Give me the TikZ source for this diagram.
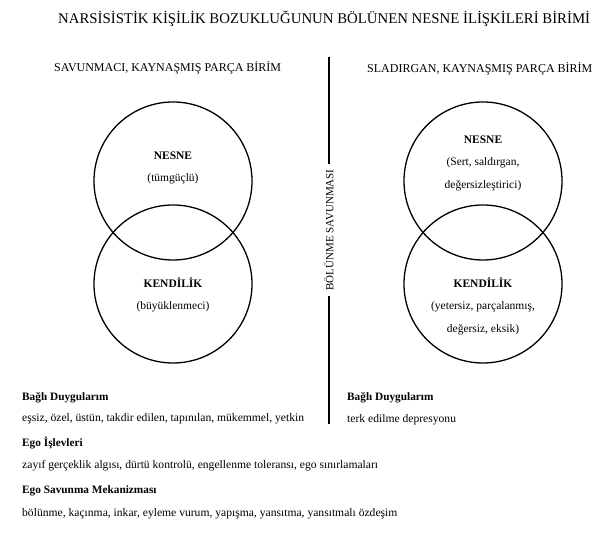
\documentclass[tikz,border=0pt]{standalone}
\usepackage{fontspec}
\setmainfont{Liberation Serif}
\usetikzlibrary{positioning}

\tikzset{
  daire/.style={draw,circle,line width=1.3pt,minimum size=158pt,inner sep=0pt},
  baslik/.style={font=\fontsize{14.8}{18}\selectfont,anchor=west,inner sep=0pt},
  altbaslik/.style={font=\fontsize{12}{14}\selectfont,anchor=west,inner sep=0pt},
  adlar/.style={font=\bfseries\fontsize{11.5}{13}\selectfont,inner sep=0pt},
  aciklama/.style={font=\fontsize{11.5}{13}\selectfont,inner sep=0pt},
  metin/.style={font=\fontsize{11.6}{13}\selectfont,anchor=west,inner sep=0pt},
  kalin/.style={font=\bfseries\fontsize{11.3}{13}\selectfont,anchor=west,inner sep=0pt}
}

\begin{document}
\begin{tikzpicture}[x=1pt,y=-1pt]
\useasboundingbox[fill=white] (0,0) rectangle (597,534);

% basliklar
\node[baslik] (anabaslik) at (58,19) {NARSİSİSTİK KİŞİLİK BOZUKLUĞUNUN BÖLÜNEN NESNE İLİŞKİLERİ BİRİMİ};
\node[altbaslik] (solbaslik) at (54,68) {SAVUNMACI, KAYNAŞMIŞ PARÇA BİRİM};
\node[altbaslik] (sagbaslik) at (367,69) {SLADIRGAN, KAYNAŞMIŞ PARÇA BİRİM};

% sol birim
\node[daire] (nesneSol) at (173,181) {};
\node[daire] (kendilikSol) at (173,284) {};
\node[adlar] (nesneSolAd) at (173,156) {NESNE};
\node[aciklama] (nesneSolAcik) at (173,179) {(tümgüçlü)};
\node[adlar] (kendilikSolAd) at (173,283) {KENDİLİK};
\node[aciklama] (kendilikSolAcik) at (173,307) {(büyüklenmeci)};

% sag birim
\node[daire] (nesneSag) at (483,181) {};
\node[daire] (kendilikSag) at (483,284) {};
\node[adlar] (nesneSagAd) at (483,140) {NESNE};
\node[aciklama] (nesneSagAcik1) at (483,163) {(Sert, saldırgan,};
\node[aciklama] (nesneSagAcik2) at (483,186) {değersizleştirici)};
\node[adlar] (kendilikSagAd) at (483,283) {KENDİLİK};
\node[aciklama] (kendilikSagAcik1) at (483,307) {(yetersiz, parçalanmış,};
\node[aciklama] (kendilikSagAcik2) at (483,330) {değersiz, eksik)};

% bolunme cizgisi
\coordinate (cizgiUst) at (329,57);
\coordinate (cizgiAlt) at (329,424);
\node[font=\fontsize{11}{12}\selectfont,rotate=90,inner sep=5pt] (bolunme) at (329,230) {BÖLÜNME SAVUNMASI};
\draw[line width=1.3pt] (cizgiUst) -- (bolunme);
\draw[line width=1.3pt] (bolunme) -- (cizgiAlt);

% alt metinler
\node[kalin] (bagliSol) at (22,398) {Bağlı Duygularım};
\node[metin] (bagliSolMetin) at (22,419) {eşsiz, özel, üstün, takdir edilen, tapınılan, mükemmel, yetkin};
\node[kalin] (bagliSag) at (347,398) {Bağlı Duygularım};
\node[metin] (bagliSagMetin) at (347,420) {terk edilme depresyonu};
\node[kalin] (egoIslev) at (22,443) {Ego İşlevleri};
\node[metin] (egoIslevMetin) at (22,466) {zayıf gerçeklik algısı, dürtü kontrolü, engellenme toleransı, ego sınırlamaları};
\node[kalin] (egoSavunma) at (22,491) {Ego Savunma Mekanizması};
\node[metin] (egoSavunmaMetin) at (22,514) {bölünme, kaçınma, inkar, eyleme vurum, yapışma, yansıtma, yansıtmalı özdeşim};

\end{tikzpicture}
\end{document}
